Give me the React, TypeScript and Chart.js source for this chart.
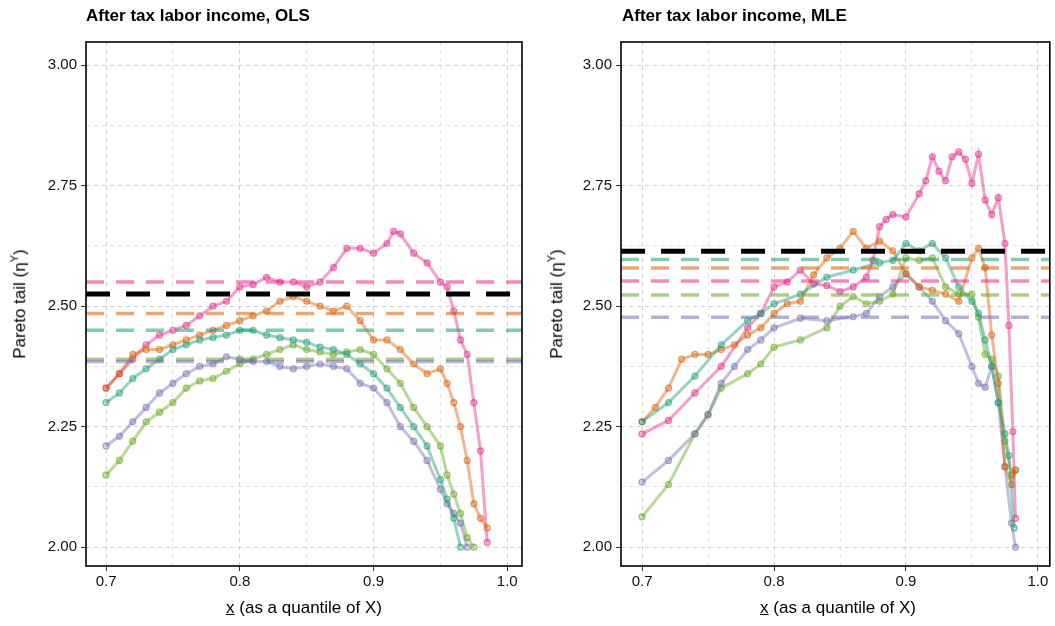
import React, { useEffect, useRef } from "react";
import { Chart, registerables } from "chart.js";
Chart.register(...registerables);

const seriesNames = ["teal", "orange", "purple", "pink", "green"];
const seriesColors = ["#1b9e77", "#d95f02", "#7570b3", "#e7298a", "#66a61e"];

// OLS panel
const olsPink = [[0.70,2.33],[0.71,2.36],[0.72,2.39],[0.73,2.42],[0.74,2.44],[0.75,2.45],[0.76,2.46],[0.77,2.48],[0.78,2.50],[0.79,2.51],[0.80,2.54],[0.81,2.545],[0.82,2.56],[0.83,2.55],[0.84,2.55],[0.85,2.54],[0.86,2.55],[0.87,2.58],[0.88,2.62],[0.89,2.62],[0.90,2.61],[0.91,2.63],[0.915,2.655],[0.92,2.65],[0.93,2.61],[0.94,2.59],[0.95,2.55],[0.955,2.54],[0.96,2.49],[0.965,2.43],[0.97,2.40],[0.975,2.30],[0.98,2.20],[0.985,2.01]];
const olsOrange = [[0.70,2.33],[0.71,2.36],[0.72,2.40],[0.73,2.41],[0.74,2.41],[0.75,2.42],[0.76,2.43],[0.77,2.44],[0.78,2.45],[0.79,2.46],[0.80,2.47],[0.81,2.48],[0.82,2.49],[0.83,2.51],[0.84,2.52],[0.85,2.51],[0.86,2.50],[0.87,2.49],[0.88,2.50],[0.89,2.47],[0.90,2.43],[0.91,2.43],[0.92,2.41],[0.93,2.38],[0.94,2.36],[0.95,2.37],[0.955,2.34],[0.96,2.30],[0.965,2.25],[0.97,2.18],[0.975,2.09],[0.98,2.06],[0.985,2.04]];
const olsTeal = [[0.70,2.30],[0.71,2.32],[0.72,2.35],[0.73,2.37],[0.74,2.39],[0.75,2.41],[0.76,2.42],[0.77,2.43],[0.78,2.435],[0.79,2.44],[0.80,2.45],[0.81,2.45],[0.82,2.44],[0.83,2.435],[0.84,2.43],[0.85,2.425],[0.86,2.415],[0.87,2.41],[0.88,2.40],[0.89,2.38],[0.90,2.36],[0.91,2.33],[0.92,2.29],[0.93,2.25],[0.94,2.21],[0.95,2.14],[0.955,2.10],[0.96,2.06],[0.965,2.00]];
const olsPurple = [[0.70,2.21],[0.71,2.23],[0.72,2.26],[0.73,2.29],[0.74,2.32],[0.75,2.34],[0.76,2.36],[0.77,2.375],[0.78,2.38],[0.79,2.395],[0.80,2.39],[0.81,2.385],[0.82,2.385],[0.83,2.375],[0.84,2.37],[0.85,2.375],[0.86,2.38],[0.87,2.375],[0.88,2.37],[0.89,2.34],[0.90,2.33],[0.91,2.30],[0.92,2.25],[0.93,2.22],[0.94,2.18],[0.95,2.12],[0.955,2.09],[0.96,2.07],[0.965,2.05],[0.97,2.00]];
const olsGreen = [[0.70,2.15],[0.71,2.18],[0.72,2.22],[0.73,2.26],[0.74,2.28],[0.75,2.30],[0.76,2.33],[0.77,2.345],[0.78,2.35],[0.79,2.365],[0.80,2.38],[0.81,2.39],[0.82,2.40],[0.83,2.41],[0.84,2.42],[0.85,2.41],[0.86,2.405],[0.87,2.40],[0.88,2.405],[0.89,2.41],[0.90,2.40],[0.91,2.37],[0.92,2.34],[0.93,2.29],[0.94,2.25],[0.95,2.21],[0.955,2.15],[0.96,2.11],[0.965,2.07],[0.97,2.02],[0.975,2.00]];
const olsLevels = [2.45, 2.485, 2.385, 2.55, 2.39];
const olsBlack = 2.525;

// MLE panel
const mlePink = [[0.70,2.235],[0.72,2.263],[0.74,2.32],[0.76,2.375],[0.78,2.455],[0.79,2.485],[0.80,2.54],[0.81,2.55],[0.82,2.575],[0.83,2.546],[0.84,2.543],[0.85,2.53],[0.86,2.54],[0.87,2.56],[0.875,2.595],[0.88,2.665],[0.885,2.68],[0.89,2.69],[0.90,2.685],[0.91,2.733],[0.915,2.76],[0.92,2.81],[0.925,2.78],[0.93,2.76],[0.935,2.81],[0.94,2.82],[0.945,2.805],[0.95,2.755],[0.955,2.815],[0.96,2.72],[0.965,2.69],[0.97,2.725],[0.975,2.63],[0.978,2.46],[0.981,2.24],[0.983,2.06]];
const mleOrange = [[0.70,2.26],[0.71,2.29],[0.72,2.33],[0.73,2.39],[0.74,2.40],[0.75,2.40],[0.76,2.41],[0.77,2.42],[0.78,2.44],[0.79,2.455],[0.80,2.485],[0.81,2.505],[0.82,2.51],[0.83,2.565],[0.84,2.60],[0.85,2.62],[0.86,2.655],[0.87,2.62],[0.88,2.635],[0.89,2.615],[0.90,2.567],[0.91,2.54],[0.92,2.533],[0.93,2.525],[0.94,2.51],[0.95,2.60],[0.955,2.62],[0.96,2.58],[0.965,2.44],[0.97,2.34],[0.975,2.167],[0.98,2.13],[0.983,2.16]];
const mleTeal = [[0.70,2.26],[0.72,2.30],[0.74,2.355],[0.76,2.42],[0.78,2.47],[0.79,2.485],[0.80,2.505],[0.82,2.525],[0.84,2.56],[0.86,2.575],[0.88,2.59],[0.89,2.595],[0.90,2.63],[0.91,2.615],[0.92,2.63],[0.93,2.60],[0.94,2.54],[0.95,2.51],[0.955,2.485],[0.96,2.43],[0.965,2.375],[0.97,2.30],[0.975,2.235],[0.978,2.19],[0.982,2.04]];
const mlePurple = [[0.70,2.135],[0.72,2.18],[0.74,2.235],[0.75,2.275],[0.76,2.34],[0.77,2.375],[0.78,2.41],[0.79,2.43],[0.80,2.455],[0.82,2.475],[0.84,2.47],[0.86,2.478],[0.87,2.485],[0.88,2.52],[0.89,2.54],[0.90,2.567],[0.91,2.54],[0.92,2.51],[0.93,2.47],[0.94,2.443],[0.95,2.375],[0.955,2.34],[0.96,2.332],[0.965,2.375],[0.97,2.30],[0.975,2.167],[0.98,2.05],[0.983,2.00]];
const mleGreen = [[0.70,2.063],[0.72,2.13],[0.74,2.235],[0.75,2.275],[0.76,2.33],[0.78,2.36],[0.79,2.38],[0.80,2.415],[0.82,2.43],[0.84,2.455],[0.85,2.50],[0.86,2.52],[0.87,2.505],[0.88,2.51],[0.89,2.525],[0.90,2.60],[0.91,2.595],[0.92,2.60],[0.93,2.54],[0.94,2.525],[0.95,2.525],[0.955,2.477],[0.96,2.40],[0.965,2.39],[0.97,2.355],[0.975,2.22],[0.98,2.15],[0.983,2.16]];
const mleLevels = [2.597, 2.579, 2.477, 2.552, 2.523];
const mleBlack = 2.614;

const xTicks = [0.7, 0.75, 0.8, 0.85, 0.9, 0.95, 1.0];
const yTicks = [2.0, 2.125, 2.25, 2.375, 2.5, 2.625, 2.75, 2.875, 3.0];
const majorX = [0.7, 0.8, 0.9, 1.0];
const majorY = [2.0, 2.25, 2.5, 2.75, 3.0];

function hexA(h: string, a: number) {
  const r = parseInt(h.slice(1, 3), 16), g = parseInt(h.slice(3, 5), 16), b = parseInt(h.slice(5, 7), 16);
  return `rgba(${r},${g},${b},${a})`;
}
const isMajor = (v: number, arr: number[]) => arr.some((m) => Math.abs(m - v) < 1e-6);

const borderPlugin = {
  id: "panelBorder",
  afterDatasetsDraw(chart: any) {
    const { ctx, chartArea: a } = chart;
    ctx.save();
    ctx.strokeStyle = "#000";
    ctx.lineWidth = 1.6;
    ctx.strokeRect(a.left, a.top, a.right - a.left, a.bottom - a.top);
    ctx.restore();
  },
};

function Panel(props: { series: number[][][]; levels: number[]; black: number; xmin: number; xmax: number; padRight: number; width: number }) {
  const ref = useRef<HTMLCanvasElement>(null);
  useEffect(() => {
    const { series, levels, black, xmin, xmax } = props;
    const datasets: any[] = [];
    series.forEach((s, i) => {
      datasets.push({
        label: seriesNames[i],
        data: s.map(([x, y]) => ({ x, y })),
        showLine: true,
        borderColor: hexA(seriesColors[i], 0.45),
        borderWidth: 3,
        pointRadius: 3,
        pointBorderWidth: 1.2,
        pointBorderColor: hexA(seriesColors[i], 0.6),
        pointBackgroundColor: hexA(seriesColors[i], 0.3),
        order: 2,
      });
    });
    levels.forEach((v, i) => {
      datasets.push({
        label: seriesNames[i] + " level",
        data: [{ x: xmin, y: v }, { x: xmax, y: v }],
        showLine: true,
        borderColor: hexA(seriesColors[i], 0.55),
        borderWidth: 3.5,
        borderDash: [18, 12],
        pointRadius: 0,
        order: 1,
      });
    });
    datasets.push({
      label: "black",
      data: [{ x: xmin, y: black }, { x: xmax, y: black }],
      showLine: true,
      borderColor: "#000",
      borderWidth: 5,
      borderDash: [24, 16],
      pointRadius: 0,
      order: 0,
    });
    const gridFor = (major: number[]) => ({
      color: (c: any) => (isMajor(c.tick?.value, major) ? "#d0d0d0" : "#e4e4e4"),
      tickColor: (c: any) => (isMajor(c.tick?.value, major) ? "#333" : "rgba(0,0,0,0)"),
      tickLength: 5,
      lineWidth: 1,
      tickBorderDash: [0, 0],
    });
    const chart = new Chart(ref.current!, {
      type: "scatter",
      data: { datasets },
      plugins: [borderPlugin],
      options: {
        animation: false,
        responsive: false,
        layout: { padding: { top: 42, right: props.padRight, bottom: 30, left: 0 } },
        plugins: { legend: { display: false }, tooltip: { enabled: false } },
        scales: {
          x: {
            type: "linear",
            min: xmin,
            max: xmax,
            afterBuildTicks: (s: any) => { s.ticks = xTicks.map((v) => ({ value: v })); },
            afterFit: (s: any) => { s.height = 30; },
            ticks: {
              autoSkip: false,
              maxRotation: 0,
              color: "#111",
              font: { family: "Liberation Sans", size: 15 },
              padding: 2,
              callback: (v: any) => (isMajor(v, majorX) ? Number(v).toFixed(1) : ""),
            },
            border: { display: false, dash: [4, 4] },
            grid: gridFor(majorX) as any,
          },
          y: {
            type: "linear",
            min: 1.961,
            max: 3.048,
            afterBuildTicks: (s: any) => { s.ticks = yTicks.map((v) => ({ value: v })); },
            afterFit: (s: any) => { s.width = 86; },
            ticks: {
              autoSkip: false,
              color: "#111",
              font: { family: "Liberation Sans", size: 15 },
              padding: 4,
              callback: (v: any) => (isMajor(v, majorY) ? Number(v).toFixed(2) : ""),
            },
            border: { display: false, dash: [4, 4] },
            grid: gridFor(majorY) as any,
          },
        },
      },
    });
    return () => chart.destroy();
  }, []);
  return <canvas ref={ref} width={props.width} height={626} style={{ display: "block" }} />;
}

const txt: React.CSSProperties = { position: "absolute", fontFamily: "Liberation Sans, Arial, sans-serif", color: "#000", whiteSpace: "nowrap" };

function Labels(props: { left: number; title: string; cx: number; yx: number }) {
  return (
    <>
      <div style={{ ...txt, left: props.left, top: 6, fontSize: 17, fontWeight: "bold" }}>{props.title}</div>
      <div style={{ ...txt, left: props.cx, top: 598, fontSize: 17, transform: "translateX(-50%)" }}>
        <span style={{ textDecoration: "underline" }}>x</span> (as a quantile of X)
      </div>
      <div style={{ ...txt, left: props.yx, top: 304, fontSize: 17, transform: "translate(-50%,-50%) rotate(-90deg)" }}>
        Pareto tail (η<sup style={{ fontSize: 11 }}>Y</sup>)
      </div>
    </>
  );
}

export default function App() {
  return (
    <div style={{ position: "absolute", left: 0, top: 0, width: 1055, height: 626, background: "#fff", overflow: "hidden" }}>
      <div style={{ position: "absolute", left: 0, top: 0 }}>
        <Panel series={[olsTeal, olsOrange, olsPurple, olsPink, olsGreen]} levels={olsLevels} black={olsBlack} xmin={0.685} xmax={1.011} padRight={13} width={535} />
      </div>
      <div style={{ position: "absolute", left: 535, top: 0 }}>
        <Panel series={[mleTeal, mleOrange, mlePurple, mlePink, mleGreen]} levels={mleLevels} black={mleBlack} xmin={0.684} xmax={1.009} padRight={2} width={520} />
      </div>
      <Labels left={86} title="After tax labor income, OLS" cx={304} yx={19} />
      <Labels left={622} title="After tax labor income, MLE" cx={838} yx={556} />
    </div>
  );
}
